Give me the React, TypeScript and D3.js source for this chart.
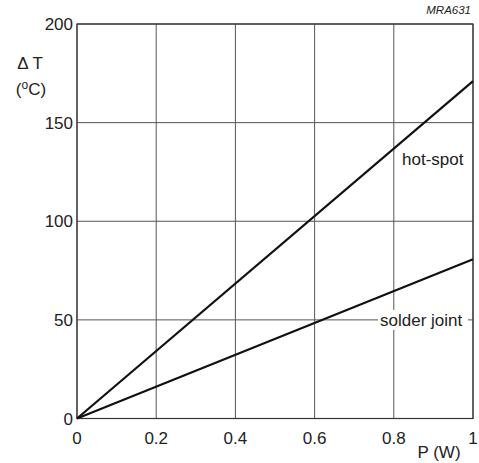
import * as d3 from 'd3';
import React from 'react';

const xTicks = [0, 0.2, 0.4, 0.6, 0.8, 1];
const yTicks = [0, 50, 100, 150, 200];
const power = [0, 1];
const hotSpot = [0, 171];
const solderJoint = [0, 80.7];

const W = 479;
const H = 463;
const m = { left: 77, right: 6, top: 24, bottom: 44.5 };
const font = "'Liberation Sans', Arial, sans-serif";
const fs = 17;

const App = () => {
  const x = d3.scaleLinear().domain([0, 1]).range([m.left, W - m.right]);
  const y = d3.scaleLinear().domain([0, 200]).range([H - m.bottom, m.top]);
  const line = d3
    .line<number>()
    .x((d, i) => x(power[i]))
    .y((d) => y(d));

  return (
    <svg
      width={W}
      height={H}
      style={{ position: 'absolute', left: 0, top: 0, background: '#fff' }}
      fontFamily={font}
    >
      {xTicks.map((t) => (
        <line key={'gx' + t} x1={x(t)} x2={x(t)} y1={y(0)} y2={y(200)} stroke="#555" strokeWidth={1} />
      ))}
      {yTicks.map((t) => (
        <line key={'gy' + t} x1={x(0)} x2={x(1)} y1={y(t)} y2={y(t)} stroke="#555" strokeWidth={1} />
      ))}
      <rect x={x(0)} y={y(200)} width={x(1) - x(0)} height={y(0) - y(200)} fill="none" stroke="#333" strokeWidth={1.2} />

      <path d={line(hotSpot) || ''} fill="none" stroke="#111" strokeWidth={2.2} />
      <path d={line(solderJoint) || ''} fill="none" stroke="#111" strokeWidth={2.2} />

      <rect x={378} y={y(50) - 10} width={90} height={20} fill="#fff" />
      <text x={380} y={y(50) + 6} fontSize={fs} fill="#222">solder joint</text>
      <text x={402} y={165} fontSize={fs} fill="#222">hot-spot</text>

      {yTicks.map((t) => (
        <text key={'ly' + t} x={x(0) - 4} y={y(t) + 6} fontSize={fs} textAnchor="end" fill="#222">
          {t}
        </text>
      ))}
      {xTicks.map((t) => (
        <text key={'lx' + t} x={x(t)} y={y(0) + 25} fontSize={fs} textAnchor="middle" fill="#222">
          {t}
        </text>
      ))}
      <text x={439} y={458} fontSize={fs} textAnchor="middle" fill="#222">P (W)</text>
      <text x={30} y={69} fontSize={fs} textAnchor="middle" fill="#222">Δ T</text>
      <text x={31} y={95} fontSize={fs} textAnchor="middle" fill="#222">
        (<tspan dy={-6} fontSize={12}>o</tspan><tspan dy={6}>C)</tspan>
      </text>
      <text x={471} y={14} fontSize={11.5} fontStyle="italic" textAnchor="end" fill="#222">MRA631</text>
    </svg>
  );
};

export default App;
